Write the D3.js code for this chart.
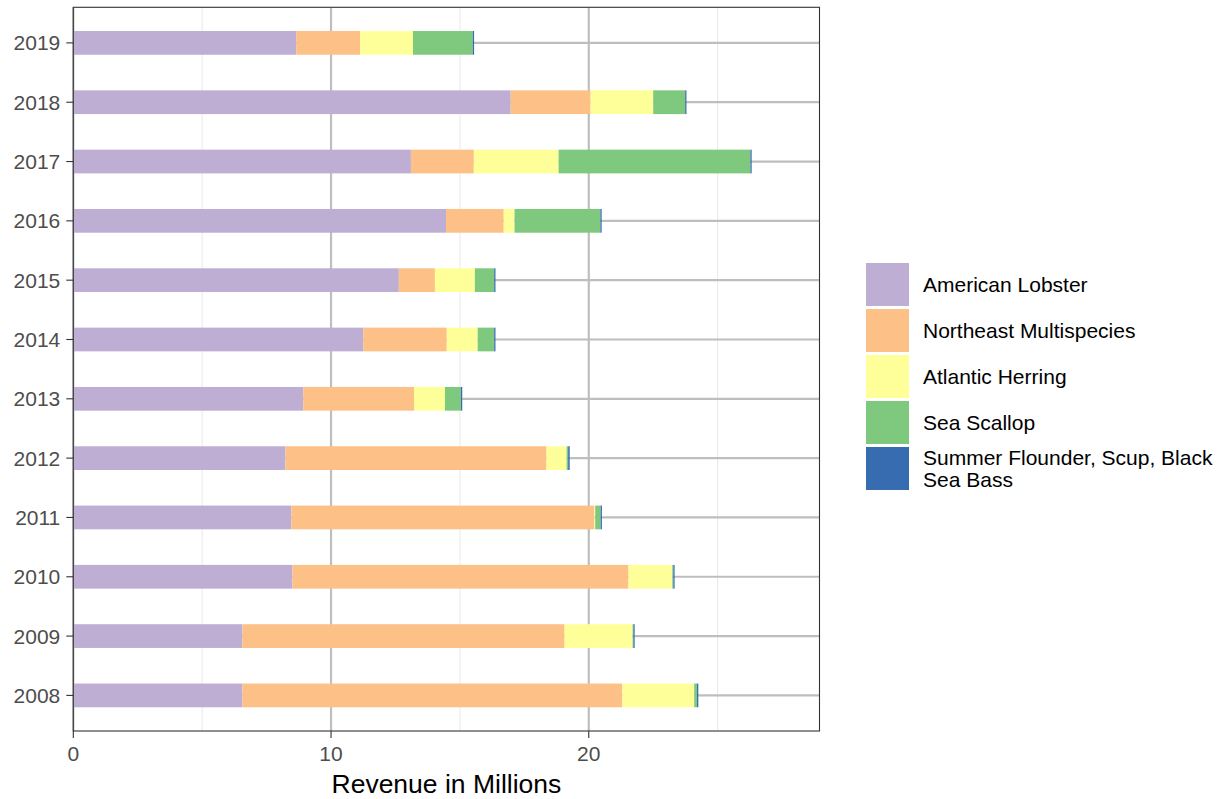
<!DOCTYPE html>
<html><head><meta charset="utf-8">
<script src="https://d3js.org/d3.v7.min.js"></script>
<style>body{margin:0;background:#fff;} svg{display:block;font-family:"Liberation Sans",Arial,Helvetica,sans-serif;}</style>
</head><body>
<script>
const years = ["2008","2009","2010","2011","2012","2013","2014","2015","2016","2017","2018","2019"];
const species = ["American Lobster","Northeast Multispecies","Atlantic Herring","Sea Scallop","Summer Flounder, Scup, Black Sea Bass"];
const lobster    = [6.56, 6.56, 8.50, 8.46, 8.23, 8.92, 11.25, 12.63, 14.46, 13.10, 16.97, 8.65];
const multispp   = [14.74,12.50,13.04,11.76,10.13, 4.30, 3.24, 1.40, 2.24, 2.44, 3.10, 2.48];
const herring    = [2.79, 2.64, 1.70, 0.03, 0.78, 1.20, 1.20, 1.55, 0.42, 3.29, 2.43, 2.05];
const scallop    = [0.11, 0.03, 0.04, 0.21, 0.06, 0.62, 0.64, 0.75, 3.33, 7.44, 1.24, 2.32];
const fluke      = [0.05, 0.05, 0.05, 0.05, 0.06, 0.05, 0.05, 0.05, 0.05, 0.05, 0.05, 0.05];
const colors = ["#BEAED4","#FDC086","#FFFF99","#7FC97F","#386CB0"];
const xTicks = [0,10,20];
const xMinor = [5,15,25];

const W=1227,H=799;
const svg=d3.select("body").append("svg").attr("width",W).attr("height",H);
const m={l:73.3,r:819.5,t:7.3,b:731};
const rows = years.map((y,i)=>({year:y,"American Lobster":lobster[i],"Northeast Multispecies":multispp[i],"Atlantic Herring":herring[i],"Sea Scallop":scallop[i],"Summer Flounder, Scup, Black Sea Bass":fluke[i]}));
const stack=d3.stack().keys(species)(rows);
const totals=rows.map(r=>d3.sum(species,k=>r[k]));
const x=d3.scaleLinear().domain([0,d3.max(totals)*1.1]).range([m.l,m.r]);
// discrete ggplot-like y: expand 0.6 units each side
const yPoint=d3.scalePoint().domain(years.slice().reverse()).range([m.t,m.b]).padding(0.6);
const yc=yr=>yPoint(yr);
const step=yPoint.step();
const bh=step*0.4;
const color=d3.scaleOrdinal().domain(species).range(colors);

// grid
const g=svg.append("g");
g.selectAll(".mn").data(xMinor).join("line").attr("x1",d=>x(d)).attr("x2",d=>x(d)).attr("y1",m.t).attr("y2",m.b).attr("stroke","#ebebeb").attr("stroke-width",1.1);
g.selectAll(".mj").data(xTicks).join("line").attr("x1",d=>x(d)).attr("x2",d=>x(d)).attr("y1",m.t).attr("y2",m.b).attr("stroke","#bebebe").attr("stroke-width",2.2);
g.selectAll(".hy").data(years).join("line").attr("x1",m.l).attr("x2",m.r).attr("y1",d=>yc(d)).attr("y2",d=>yc(d)).attr("stroke","#bebebe").attr("stroke-width",2.2);

// bars
svg.append("g").selectAll("g").data(stack).join("g").attr("fill",d=>color(d.key))
 .selectAll("rect").data(d=>d).join("rect")
 .attr("x",d=>x(d[0])).attr("width",d=>Math.max(0,x(d[1])-x(d[0])))
 .attr("y",d=>yc(d.data.year)-bh/2).attr("height",bh);

// border
svg.append("rect").attr("x",m.l).attr("y",m.t).attr("width",m.r-m.l).attr("height",m.b-m.t).attr("fill","none").attr("stroke","#333").attr("stroke-width",1.1);

// y axis ticks
const ya=svg.append("g");
years.forEach(yr=>{
  ya.append("line").attr("x1",m.l-7).attr("x2",m.l).attr("y1",yc(yr)).attr("y2",yc(yr)).attr("stroke","#333").attr("stroke-width",1.1);
  ya.append("text").attr("x",m.l-13).attr("y",yc(yr)).attr("dy","0.36em").attr("text-anchor","end").attr("font-size",21).attr("fill","#4d4d4d").text(yr);
});
// x axis ticks
const xa=svg.append("g");
xTicks.forEach(t=>{
  xa.append("line").attr("x1",x(t)).attr("x2",x(t)).attr("y1",m.b).attr("y2",m.b+7).attr("stroke","#333").attr("stroke-width",1.1);
  xa.append("text").attr("x",x(t)).attr("y",m.b+22).attr("dy","0.36em").attr("text-anchor","middle").attr("font-size",21).attr("fill","#4d4d4d").text(t);
});
svg.append("text").attr("x",(m.l+m.r)/2).attr("y",783).attr("dy","0.36em").attr("text-anchor","middle").attr("font-size",26.5).attr("fill","#000").text("Revenue in Millions");

// legend
const lg=svg.append("g");
const ky0=263, kstep=46, ks=43, kx=866;
species.forEach((s,i)=>{
  const ky=ky0+i*kstep;
  lg.append("rect").attr("x",kx).attr("y",ky).attr("width",ks).attr("height",ks).attr("fill",colors[i]);
  const t=lg.append("text").attr("x",923).attr("font-size",21).attr("fill","#000");
  if(i<4){ t.attr("y",ky+ks/2).attr("dy","0.36em").text(s); }
  else {
    t.append("tspan").attr("x",923).attr("y",ky+ks/2-11).attr("dy","0.36em").text("Summer Flounder, Scup, Black");
    t.append("tspan").attr("x",923).attr("y",ky+ks/2+11).attr("dy","0.36em").text("Sea Bass");
  }
});
</script>
</body></html>
